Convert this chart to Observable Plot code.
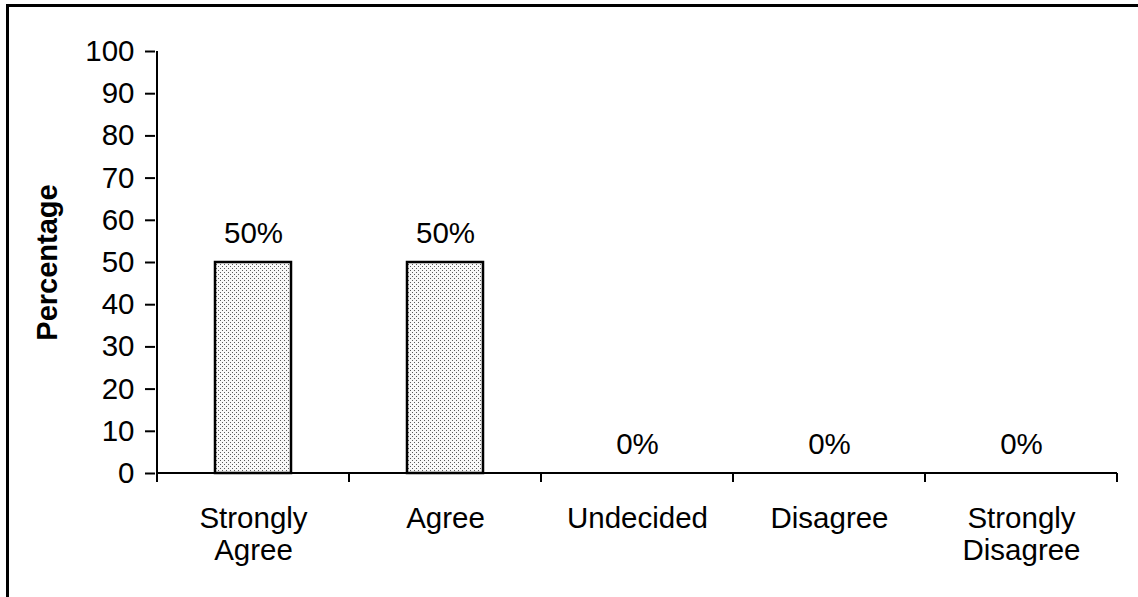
<!DOCTYPE html>
<html><head><meta charset="utf-8">
<script src="https://cdn.jsdelivr.net/npm/d3@7"></script>
<script src="https://cdn.jsdelivr.net/npm/@observablehq/plot@0.6"></script>
<style>
body{margin:0;background:#fff;overflow:hidden}
#wrap{position:relative;width:1138px;height:597px;overflow:hidden;background:#fff}
#border{position:absolute;left:6px;top:4px;width:1300px;height:800px;border-left:3px solid #000;border-top:3px solid #000}
#chart{position:absolute;left:0;top:0}
</style></head><body>
<div id="wrap"><div id="border"></div><div id="chart"></div></div>
<script>
const categories = ["Strongly Agree", "Agree", "Undecided", "Disagree", "Strongly Disagree"];
const tickLabels = ["Strongly\nAgree", "Agree", "Undecided", "Disagree", "Strongly\nDisagree"];
const values = [50, 50, 0, 0, 0];
const valueLabels = ["50%", "50%", "0%", "0%", "0%"];
const yTicks = [0, 10, 20, 30, 40, 50, 60, 70, 80, 90, 100];
const yTitle = "Percentage";

const data = categories.map((c, i) => ({category: c, value: values[i], label: valueLabels[i]}));

const axesFrame = (index, scales) => {
  const x = scales.x, y = scales.y;
  const bw = x.bandwidth();
  const xs = categories.map(c => x(c));
  xs.push(x(categories[categories.length - 1]) + bw);
  const y0 = y(0);
  const g = d3.create("svg:g").attr("stroke", "black").attr("stroke-width", 2);
  g.append("line").attr("x1", xs[0]).attr("x2", xs[xs.length - 1]).attr("y1", y0).attr("y2", y0);
  g.append("line").attr("x1", xs[0]).attr("x2", xs[0]).attr("y1", y(yTicks[yTicks.length - 1])).attr("y2", y0);
  for (const xv of xs) {
    g.append("line").attr("x1", xv).attr("x2", xv).attr("y1", y0).attr("y2", y0 + 9);
  }
  return g.node();
};

const FS = 29.5;

const plot = Plot.plot({
  width: 1138,
  height: 597,
  marginLeft: 155,
  marginRight: 19,
  marginTop: 51,
  marginBottom: 124,
  style: {fontFamily: "Arial, 'Liberation Sans', sans-serif", fontSize: FS + "px", color: "black", background: "transparent", overflow: "visible"},
  x: {type: "band", domain: categories, padding: 0, label: null},
  y: {domain: [0, 100], label: null},
  marks: [
    Plot.axisY({ticks: yTicks, tickSize: 10, tickPadding: 11, fontSize: FS, label: null, strokeWidth: 2}),
    Plot.axisX({tickSize: 0, tickPadding: 32, fontSize: FS, lineHeight: 1.08, label: null,
      tickFormat: d => tickLabels[categories.indexOf(d)]}),
    Plot.barY(data.filter(d => d.value > 0), {x: "category", y: "value", fill: "url(#dots)", stroke: "black", strokeWidth: 2.5, insetLeft: 58, insetRight: 58}),
    Plot.text(data, {x: "category", y: "value", text: "label", dy: -29, fontSize: FS}),
    Plot.text([yTitle], {frameAnchor: "left", textAnchor: "middle", dx: -108, rotate: -90, fontWeight: "bold", fontSize: 29, text: d => d}),
    axesFrame
  ]
});

const svg = d3.select(plot);
const defs = svg.insert("defs", ":first-child");
const pat = defs.append("pattern").attr("id", "dots").attr("patternUnits", "userSpaceOnUse")
  .attr("width", 4).attr("height", 4);
pat.append("rect").attr("width", 4).attr("height", 4).attr("fill", "#f8f8f8");
pat.append("rect").attr("x", 0).attr("y", 0).attr("width", 1).attr("height", 1).attr("fill", "#5a5a5a");
pat.append("rect").attr("x", 2).attr("y", 2).attr("width", 1).attr("height", 1).attr("fill", "#5a5a5a");

document.getElementById("chart").appendChild(plot);
</script>
</body></html>
